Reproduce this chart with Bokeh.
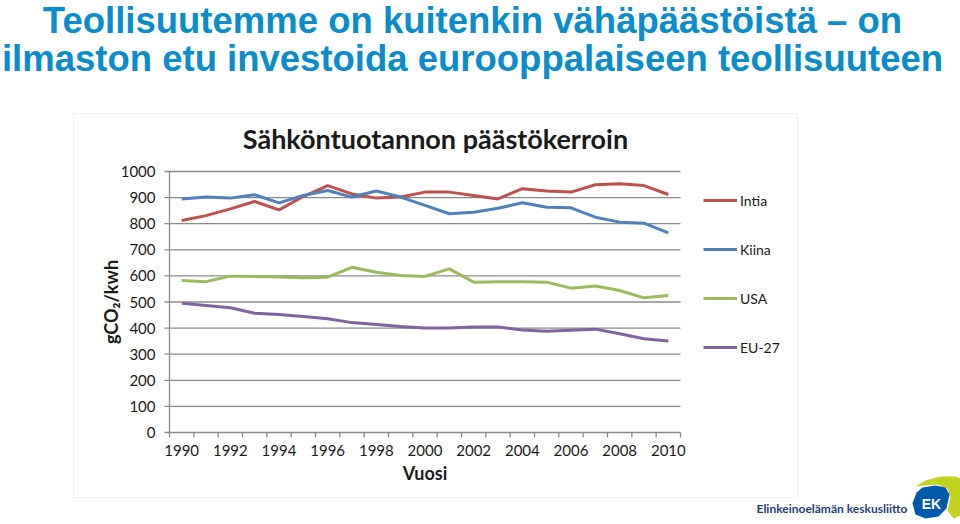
import math
from bokeh.plotting import figure
from bokeh.models import Range1d, Label, PolyAnnotation, Legend, LegendItem
from bokeh.core.properties import value
from bokeh.embed import file_html
from bokeh.resources import INLINE

# ---------------- data ----------------
years = list(range(1990, 2011))
intia = [812, 831, 857, 885, 853, 904, 946, 914, 898, 902, 921, 921, 908, 895, 934, 925, 921, 949, 953, 946, 912]
kiina = [895, 902, 898, 911, 880, 908, 927, 902, 925, 902, 870, 838, 844, 859, 880, 863, 861, 825, 806, 802, 765]
usa = [582, 578, 599, 598, 596, 593, 595, 633, 614, 602, 598, 627, 576, 578, 578, 576, 553, 561, 544, 516, 525]
eu27 = [495, 487, 478, 457, 452, 444, 436, 421, 414, 406, 400, 400, 404, 404, 393, 388, 392, 396, 378, 359, 351]
series_names = ["Intia", "Kiina", "USA", "EU-27"]
y_ticks = list(range(0, 1001, 100))
x_label_years = list(range(1990, 2011, 2))

page_title_1 = "Teollisuutemme on kuitenkin vähäpäästöistä – on"
page_title_2 = "ilmaston etu investoida eurooppalaiseen teollisuuteen"
chart_title = "Sähköntuotannon päästökerroin"
x_title = "Vuosi"
y_title = "gCO₂/kwh"
footer_text = "Elinkeinoelämän keskusliitto"

# ---------------- canvas / scales ----------------
W, H = 960, 524
PL, PR, PT, PB = 169, 680, 171, 432          # plot area in page pixels
X0, X1 = years[0] - 0.5, years[-1] + 0.5
Y0, Y1 = y_ticks[0], y_ticks[-1]
kx = (X1 - X0) / (PR - PL)                   # years per pixel
ky = (Y1 - Y0) / (PB - PT)                   # values per pixel

p = figure(width=W, height=H, x_range=Range1d(0, W), y_range=Range1d(H, 0),
           x_axis_location=None, y_axis_location=None,
           output_backend="svg", toolbar_location=None,
           min_border=0, min_border_left=0, min_border_right=0, min_border_top=0, min_border_bottom=0)
p.outline_line_color = None
p.background_fill_color = "white"
p.border_fill_color = "white"
p.grid.visible = False
p.extra_x_ranges = {"yrs": Range1d(X0 - PL * kx, X1 + (W - PR) * kx)}
p.extra_y_ranges = {"val": Range1d(Y0 - (H - PB) * ky, Y1 + PT * ky)}
D = dict(x_range_name="yrs", y_range_name="val")

# chart box border
p.add_layout(PolyAnnotation(xs=[73, 797, 797, 73], ys=[113, 113, 497, 497],
                            fill_color="white", fill_alpha=1.0, line_color="#cfcfcf",
                            line_width=1.2, level="underlay"))

grid_gray = "#8a8a8a"
text_col = "#1a1a1a"
# horizontal gridlines
p.segment(x0=X0, x1=X1, y0=y_ticks, y1=y_ticks, line_color=grid_gray, line_width=1.3, **D)
# y axis line + ticks
p.segment(x0=X0, x1=X0, y0=Y0, y1=Y1, line_color=grid_gray, line_width=1.3, **D)
p.segment(x0=X0 - 5 * kx, x1=X0, y0=y_ticks, y1=y_ticks, line_color=grid_gray, line_width=1.3, **D)
# x axis ticks between categories
x_bounds = [y - 0.5 for y in years] + [X1]
p.segment(x0=x_bounds, x1=x_bounds, y0=Y0, y1=Y0 - 5 * ky, line_color=grid_gray, line_width=1.3, **D)

# tick labels
p.text(x=[X0] * len(y_ticks), y=y_ticks, text=[str(v) for v in y_ticks], x_offset=-14,
       text_align="right", text_baseline="middle", text_font=value("Lato"),
       text_font_size="15px", text_color=text_col, **D)
p.text(x=x_label_years, y=[Y0] * len(x_label_years), text=[str(v) for v in x_label_years],
       y_offset=18, text_align="center", text_baseline="middle", text_font=value("Lato"),
       text_font_size="15px", text_color=text_col, **D)

# series
colors = ["#C0504D", "#4F81BD", "#9BBB59", "#8064A2"]
renderers = []
for vals, c in zip([intia, kiina, usa, eu27], colors):
    renderers.append(p.line(years, vals, line_width=3, line_color=c, **D))

legend = Legend(items=[LegendItem(label=n, renderers=[r]) for n, r in zip(series_names, renderers)],
                location=(703, 167), orientation="vertical", glyph_width=34, glyph_height=20,
                label_height=20, spacing=29, padding=0, margin=0, label_standoff=3,
                border_line_color=None, background_fill_alpha=0,
                label_text_font="Lato", label_text_font_size="14px", label_text_color=text_col)
p.add_layout(legend)

# axis titles
p.add_layout(Label(x=(PL + PR) / 2, y=472, text=x_title, text_align="center", text_baseline="middle",
                   text_font="Lato", text_font_style="bold", text_font_size="18px", text_color=text_col))
p.add_layout(Label(x=110, y=(PT + PB) / 2, text=y_title, angle=math.pi / 2, text_align="center",
                   text_baseline="middle", text_font="Lato", text_font_style="bold",
                   text_font_size="18px", text_color=text_col))

# chart title
p.add_layout(Label(x=435, y=138, text=chart_title, text_align="center", text_baseline="alphabetic",
                   text_font="Lato", text_font_style="bold", text_font_size="27px", text_color=text_col))

# page titles
title_blue = "#0b8dcb"
for txt, yb in [(page_title_1, 20), (page_title_2, 58)]:
    p.add_layout(Label(x=472, y=yb, text=txt, text_align="center", text_baseline="alphabetic",
                       text_font="Liberation Sans", text_font_style="bold",
                       text_font_size="36.5px", text_color=title_blue))

# footer + logo
p.add_layout(Label(x=756, y=508, text=footer_text, text_align="left", text_baseline="alphabetic",
                   text_font="Lato", text_font_style="bold", text_font_size="12px", text_color="#1f3f7a"))
p.add_layout(PolyAnnotation(xs=[915, 925, 940, 955, 960, 960, 953, 947, 950, 947, 937, 924],
                            ys=[486, 480, 476, 476, 478, 515, 518, 510, 497, 488, 484, 485],
                            fill_color="#c2d21e", fill_alpha=1, line_color=None))
p.add_layout(PolyAnnotation(xs=[916, 922, 935, 945, 949, 946, 938, 925, 915, 912],
                            ys=[492, 487, 485, 487, 494, 508, 516, 518, 514, 503],
                            fill_color="#005aaa", fill_alpha=1, line_color=None))
p.add_layout(Label(x=931, y=503, text="EK", text_align="center", text_baseline="middle",
                   text_font="Liberation Sans", text_font_style="bold", text_font_size="14px",
                   text_color="white"))

open("out.html", "w").write(file_html(p, INLINE))
